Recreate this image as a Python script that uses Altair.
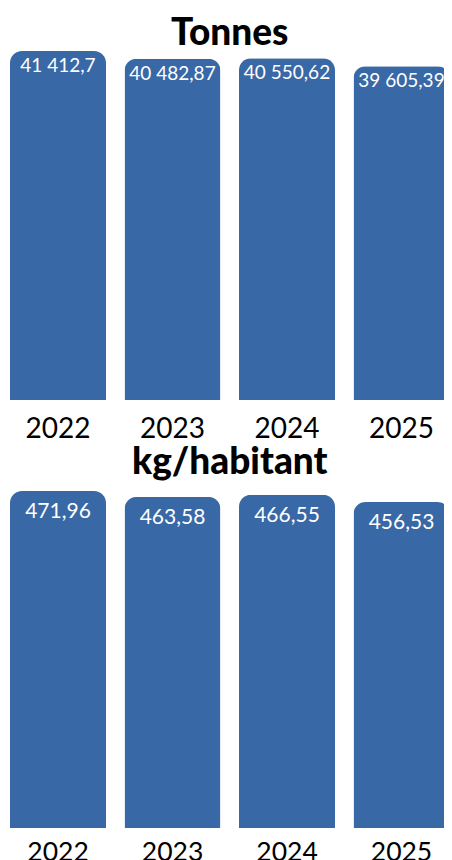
import altair as alt
import pandas as pd

years = ["2022", "2023", "2024", "2025"]
tonnes = [41412.7, 40482.87, 40550.62, 39605.39]
tonnes_labels = ["41 412,7", "40 482,87", "40 550,62", "39 605,39"]
kg_hab = [471.96, 463.58, 466.55, 456.53]
kg_labels = ["471,96", "463,58", "466,55", "456,53"]

BAR = "#3968a6"
FONT = "Lato"

def panel(values, labels, title, h, label_fs, year_fs, dy, title_offset, label_pad):
    df = pd.DataFrame({"year": years, "value": values, "label": labels})
    x = alt.X("year:N", title=None,
              scale=alt.Scale(paddingInner=0.1616, paddingOuter=0.0175),
              axis=alt.Axis(labelAngle=0, labelFontSize=year_fs, labelFont=FONT,
                            labelColor="#000", domain=False, ticks=False,
                            labelPadding=label_pad))
    y = alt.Y("value:Q", title=None, axis=None,
              scale=alt.Scale(domain=[0, max(values)], nice=False, zero=True))
    bars = alt.Chart(df).mark_bar(color=BAR, cornerRadiusTopLeft=12,
                                  cornerRadiusTopRight=12).encode(x=x, y=y)
    text = alt.Chart(df).mark_text(color="white", font=FONT, fontSize=label_fs,
                                   baseline="top", dy=dy).encode(
        x=x, y=y, text="label:N")
    return alt.layer(bars, text).properties(
        width=443.5, height=h,
        title=alt.TitleParams(title, font=FONT, fontSize=37, fontWeight=900,
                              color="#000", anchor="middle",
                              baseline="bottom", offset=title_offset))

top = panel(tonnes, tonnes_labels, "Tonnes", 349, 19, 28, 6, -39, 15)
bottom = panel(kg_hab, kg_labels, "kg/habitant", 337, 21, 26.5, 10, -28, 11)

chart = alt.vconcat(top, bottom, spacing=1).properties(
    background="white",
    padding={"left": 0, "top": 7, "right": -7.5, "bottom": 0}
).configure_view(stroke=None, strokeWidth=0)

chart.save("out.html", embed_options={"renderer": "svg", "actions": False})
